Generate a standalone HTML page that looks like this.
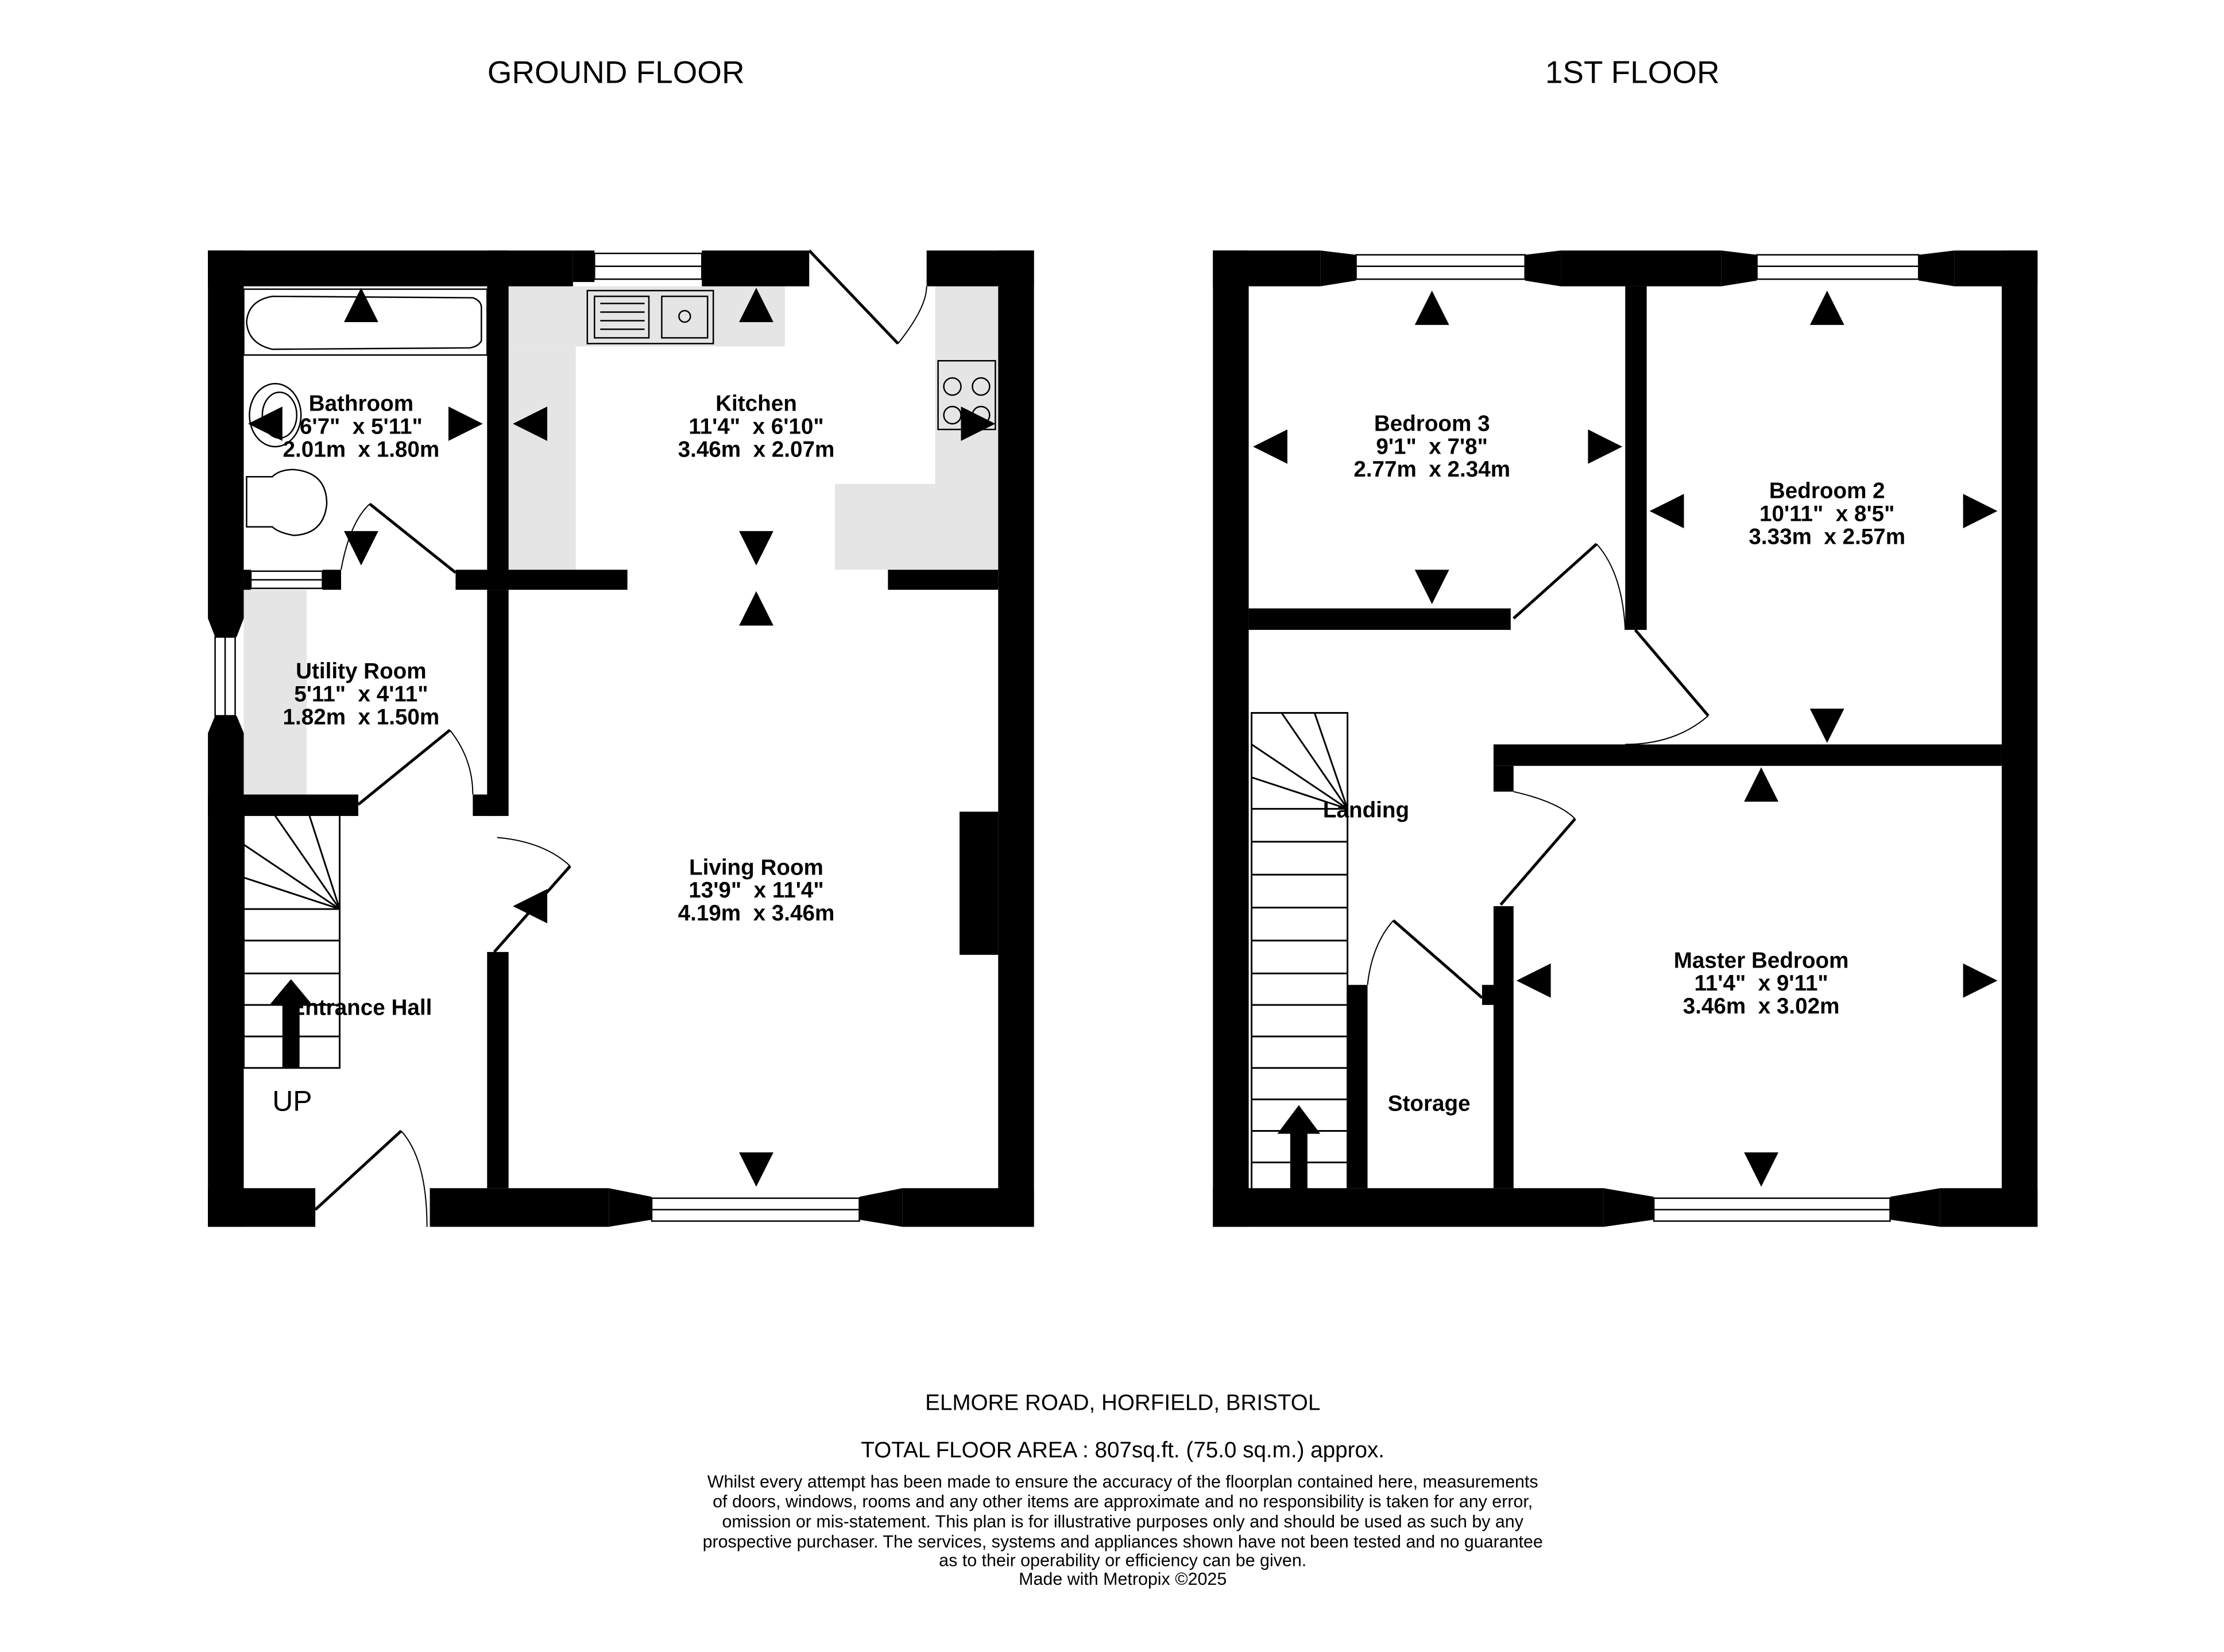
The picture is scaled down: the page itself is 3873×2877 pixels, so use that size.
<!DOCTYPE html>
<html><head><meta charset="utf-8"><style>
html,body{margin:0;padding:0;background:#fff}
svg{display:block}
text{white-space:pre}
.t{font-family:"Liberation Sans",sans-serif}
.r{font-family:"Liberation Sans Narrow","Liberation Sans",sans-serif;font-weight:bold;font-size:15.5px;text-anchor:middle}
</style></head><body>
<svg width="3873" height="2877" viewBox="0 0 1553 1154" xmlns="http://www.w3.org/2000/svg">
<rect width="1553" height="1154" fill="#fff"/>
<text class="t" x="430" y="58" font-size="22" text-anchor="middle">GROUND FLOOR</text>
<text class="t" x="1140" y="58" font-size="22" text-anchor="middle">1ST FLOOR</text>

<g fill="#e5e5e5">
<rect x="355" y="200" width="193" height="42"/>
<rect x="355" y="242" width="47" height="156"/>
<rect x="583" y="338" width="114" height="60"/>
<rect x="653" y="200" width="44" height="138"/>
<rect x="170" y="412" width="44" height="143"/>
</g>

<g fill="#000">
<rect x="145" y="175" width="255" height="25"/>
<rect x="400" y="175" width="15" height="22"/>
<rect x="490" y="175" width="75" height="25"/>
<rect x="647" y="175" width="75" height="25"/>
<rect x="145" y="175" width="25" height="257"/>
<rect x="145" y="512" width="25" height="345"/>
<rect x="697" y="175" width="25" height="682"/>
<rect x="145" y="830" width="75" height="27"/>
<rect x="300" y="830" width="125" height="27"/>
<polygon points="425,830 455,836 455,852 425,857"/>
<polygon points="600,836 630,830 630,857 600,852"/>
<rect x="630" y="830" width="92" height="27"/>
<rect x="340" y="175" width="15" height="237"/>
<rect x="170" y="398" width="5" height="14"/>
<rect x="225" y="398" width="13" height="14"/>
<rect x="318" y="398" width="120" height="14"/>
<rect x="620" y="398" width="77" height="14"/>
<rect x="340" y="412" width="15" height="158"/>
<rect x="330" y="555" width="17" height="15"/>
<rect x="340" y="665" width="15" height="165"/>
<rect x="145" y="555" width="105" height="15"/>
<rect x="670" y="567" width="27" height="100"/>
</g>
<g fill="#fff" stroke="#000" stroke-width="1">
<rect x="415" y="177" width="75" height="18"/>
<rect x="455" y="837" width="145" height="16"/>
<rect x="150" y="445" width="14" height="55"/>
<rect x="175" y="399" width="50" height="12"/>
</g>
<g stroke="#000" stroke-width="1">
<line x1="415" y1="186" x2="490" y2="186"/><line x1="455" y1="845" x2="600" y2="845"/>
<line x1="157" y1="445" x2="157" y2="500"/><line x1="175" y1="405" x2="225" y2="405"/>
</g>
<polygon points="145,432 170,432 165,445 150,445" fill="#000"/>
<polygon points="150,500 165,500 170,512 145,512" fill="#000"/>

<g fill="none" stroke="#000">
<line x1="565" y1="175" x2="627" y2="240" stroke-width="2"/>
<path d="M627,240 Q647,215 647,200" stroke-width="0.8"/>
<line x1="258" y1="352" x2="318" y2="400" stroke-width="2"/>
<path d="M238,398 Q244,365 258,352" stroke-width="0.8"/>
<line x1="250" y1="562" x2="314" y2="510" stroke-width="2"/>
<path d="M314,510 Q330,530 330,555" stroke-width="0.8"/>
<line x1="345" y1="665" x2="398" y2="605" stroke-width="2"/>
<path d="M347,585 Q380,588 398,605" stroke-width="0.8"/>
<line x1="220" y1="845" x2="280" y2="790" stroke-width="2"/>
<path d="M280,790 Q298,810 298,857" stroke-width="0.8"/>
</g>

<g fill="none" stroke="#000" stroke-width="1">
<rect x="170" y="202" width="170" height="46"/>
<path d="M190,207 L330,208 Q336,210 336,215 L336,238 Q334,242 328,243 L190,244 Q173,240 172,225 Q173,210 190,207Z"/>
<ellipse cx="192" cy="290" rx="18" ry="22"/>
<ellipse cx="195" cy="290" rx="12" ry="16"/>
<path d="M172,333 L190,333 Q195,328 205,328 Q228,330 228,352 Q226,373 205,374 Q194,372 190,368 L172,368Z"/>
<rect x="410" y="203" width="88" height="37"/>
<rect x="462" y="207" width="32" height="29"/>
<circle cx="478" cy="221" r="4"/>
<rect x="415" y="207" width="38" height="29"/>
<rect x="655" y="252" width="40" height="48"/>
<circle cx="665" cy="270" r="6"/><circle cx="685" cy="270" r="6"/>
<circle cx="665" cy="290" r="6"/><circle cx="685" cy="290" r="6"/>
</g>
<g stroke="#000" stroke-width="1">
<line x1="419" y1="212" x2="450" y2="212"/><line x1="419" y1="218" x2="450" y2="218"/>
<line x1="419" y1="224" x2="450" y2="224"/><line x1="419" y1="230" x2="450" y2="230"/>
</g>

<g fill="none" stroke="#000" stroke-width="1.2">
<rect x="170" y="567" width="67" height="179"/>
<line x1="170" y1="657" x2="237" y2="657"/><line x1="170" y1="680" x2="237" y2="680"/>
<line x1="170" y1="702" x2="237" y2="702"/><line x1="170" y1="724" x2="237" y2="724"/>
<line x1="237" y1="635" x2="170" y2="635"/>
<line x1="237" y1="635" x2="170" y2="613"/><line x1="237" y1="635" x2="190" y2="567"/>
<line x1="237" y1="635" x2="215" y2="567"/><line x1="237" y1="635" x2="170" y2="590"/>
</g>
<rect x="197" y="700" width="12" height="46" fill="#000"/>
<polygon points="188,702 203,684 218,702" fill="#000"/>
<text class="t" x="190" y="776" font-size="20">UP</text>

<g fill="#000">
<rect x="847" y="175" width="75" height="25"/>
<polygon points="922,175 947,178 947,196 922,200"/>
<polygon points="1065,178 1090,175 1090,200 1065,196"/>
<rect x="1090" y="175" width="112" height="25"/>
<polygon points="1202,175 1227,178 1227,196 1202,200"/>
<polygon points="1340,178 1365,175 1365,200 1340,196"/>
<rect x="1365" y="175" width="58" height="25"/>
<rect x="847" y="175" width="25" height="682"/>
<rect x="1398" y="175" width="25" height="682"/>
<rect x="847" y="830" width="273" height="27"/>
<polygon points="1120,830 1155,836 1155,852 1120,857"/>
<polygon points="1320,836 1355,830 1355,857 1320,852"/>
<rect x="1355" y="830" width="68" height="27"/>
<rect x="872" y="425" width="183" height="15"/>
<rect x="1135" y="200" width="15" height="240"/>
<rect x="1043" y="520" width="355" height="15"/>
<rect x="1043" y="535" width="14" height="18"/>
<rect x="1043" y="633" width="14" height="197"/>
<rect x="1035" y="688" width="12" height="14"/>
<rect x="941" y="688" width="14" height="142"/>
</g>
<g fill="#fff" stroke="#000" stroke-width="1">
<rect x="947" y="178" width="118" height="17"/>
<rect x="1227" y="178" width="113" height="17"/>
<rect x="1155" y="837" width="165" height="16"/>
</g>
<g stroke="#000" stroke-width="1">
<line x1="947" y1="186" x2="1065" y2="186"/><line x1="1227" y1="186" x2="1340" y2="186"/>
<line x1="1155" y1="845" x2="1320" y2="845"/>
</g>
<g fill="none" stroke="#000">
<line x1="1057" y1="432" x2="1115" y2="380" stroke-width="2"/>
<path d="M1115,380 Q1133,400 1135,440" stroke-width="0.8"/>
<line x1="1142" y1="440" x2="1193" y2="500" stroke-width="2"/>
<path d="M1193,500 Q1170,520 1135,520" stroke-width="0.8"/>
<line x1="1048" y1="632" x2="1100" y2="572" stroke-width="2"/>
<path d="M1057,553 Q1088,560 1100,572" stroke-width="0.8"/>
<line x1="973" y1="643" x2="1035" y2="697" stroke-width="2"/>
<path d="M955,688 Q958,660 973,643" stroke-width="0.8"/>
</g>
<g fill="none" stroke="#000" stroke-width="1.2">
<rect x="874" y="498" width="67" height="335"/>
<line x1="874" y1="588" x2="941" y2="588"/><line x1="874" y1="565" x2="941" y2="565"/>
<line x1="874" y1="611" x2="941" y2="611"/><line x1="874" y1="634" x2="941" y2="634"/>
<line x1="874" y1="657" x2="941" y2="657"/><line x1="874" y1="680" x2="941" y2="680"/>
<line x1="874" y1="702" x2="941" y2="702"/><line x1="874" y1="724" x2="941" y2="724"/>
<line x1="874" y1="746" x2="941" y2="746"/><line x1="874" y1="768" x2="941" y2="768"/>
<line x1="874" y1="790" x2="941" y2="790"/><line x1="874" y1="812" x2="941" y2="812"/>
<line x1="941" y1="565" x2="874" y2="520"/><line x1="941" y1="565" x2="874" y2="543"/>
<line x1="941" y1="565" x2="895" y2="498"/><line x1="941" y1="565" x2="918" y2="498"/>
</g>
<rect x="901" y="790" width="12" height="43" fill="#000"/>
<polygon points="892,792 907,772 922,792" fill="#000"/>

<g fill="#000">
<polygon points="240,225 252,201 264,225"/><polygon points="516,225 528,201 540,225"/>
<polygon points="516,437 528,413 540,437"/><polygon points="988,227 1000,203 1012,227"/>
<polygon points="1264,227 1276,203 1288,227"/><polygon points="1218,560 1230,536 1242,560"/>
<polygon points="240,371 252,395 264,371"/><polygon points="516,371 528,395 540,371"/>
<polygon points="516,805 528,829 540,805"/><polygon points="988,398 1000,422 1012,398"/>
<polygon points="1264,495 1276,519 1288,495"/><polygon points="1218,805 1230,829 1242,805"/>
<polygon points="313,284 337,296 313,308"/><polygon points="671,284 695,296 671,308"/>
<polygon points="1109,300 1133,312 1109,324"/><polygon points="1371,345 1395,357 1371,369"/>
<polygon points="1371,673 1395,685 1371,697"/>
<polygon points="382,284 358,296 382,308"/><polygon points="197,284 173,296 197,308"/>
<polygon points="899,300 875,312 899,324"/><polygon points="1176,345 1152,357 1176,369"/>
<polygon points="1083,673 1059,685 1083,697"/><polygon points="382,621 358,633 382,645"/>
</g>

<g class="r">
<text x="252" y="287">Bathroom</text><text x="252" y="303">6'7"  x 5'11"</text><text x="252" y="319">2.01m  x 1.80m</text>
<text x="528" y="287">Kitchen</text><text x="528" y="303">11'4"  x 6'10"</text><text x="528" y="319">3.46m  x 2.07m</text>
<text x="252" y="474">Utility Room</text><text x="252" y="490">5'11"  x 4'11"</text><text x="252" y="506">1.82m  x 1.50m</text>
<text x="528" y="611">Living Room</text><text x="528" y="627">13'9"  x 11'4"</text><text x="528" y="643">4.19m  x 3.46m</text>
<text x="252" y="709">Entrance Hall</text>
<text x="1000" y="301">Bedroom 3</text><text x="1000" y="317">9'1"  x 7'8"</text><text x="1000" y="333">2.77m  x 2.34m</text>
<text x="1276" y="348">Bedroom 2</text><text x="1276" y="364">10'11"  x 8'5"</text><text x="1276" y="380">3.33m  x 2.57m</text>
<text x="954" y="571">Landing</text>
<text x="1230" y="676">Master Bedroom</text><text x="1230" y="692">11'4"  x 9'11"</text><text x="1230" y="708">3.46m  x 3.02m</text>
<text x="998" y="776">Storage</text>
</g>

<g class="t" text-anchor="middle">
<text x="784" y="985" font-size="15.5">ELMORE ROAD, HORFIELD, BRISTOL</text>
<text x="784" y="1018" font-size="15.5">TOTAL FLOOR AREA : 807sq.ft. (75.0 sq.m.) approx.</text>
<g font-size="12.2">
<text x="784" y="1039">Whilst every attempt has been made to ensure the accuracy of the floorplan contained here, measurements</text>
<text x="784" y="1053">of doors, windows, rooms and any other items are approximate and no responsibility is taken for any error,</text>
<text x="784" y="1067">omission or mis-statement. This plan is for illustrative purposes only and should be used as such by any</text>
<text x="784" y="1081">prospective purchaser. The services, systems and appliances shown have not been tested and no guarantee</text>
<text x="784" y="1094">as to their operability or efficiency can be given.</text>
<text x="784" y="1107">Made with Metropix ©2025</text>
</g></g>
</svg>
</body></html>
